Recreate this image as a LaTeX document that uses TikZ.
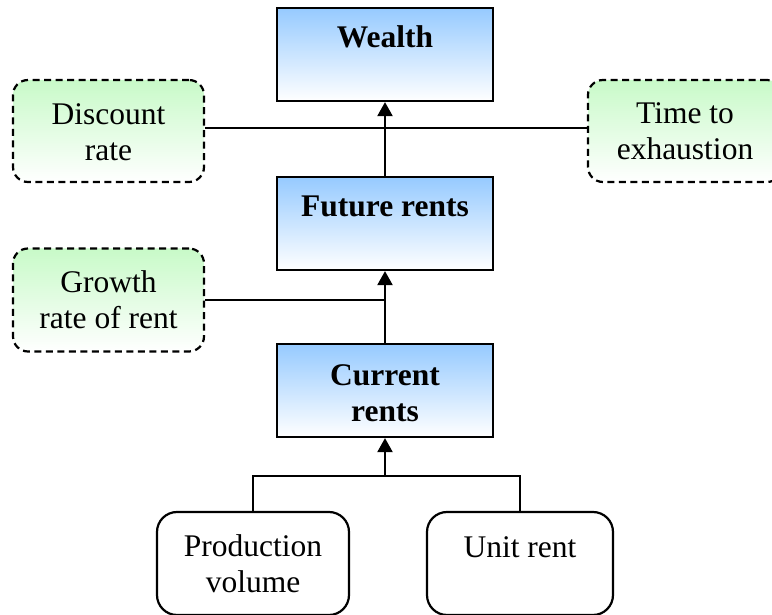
\documentclass[tikz,border=0pt]{standalone}
\usepackage{fontspec}
\setmainfont{Liberation Serif}
\usetikzlibrary{arrows.meta}
\definecolor{stockblue}{RGB}{150,202,255}
\definecolor{driftgreen}{RGB}{200,250,200}
\tikzset{
  stockbox/.style={draw, line width=2.2pt, minimum width=216pt, minimum height=93pt,
    inner sep=0pt, top color=stockblue, bottom color=white},
  drivebox/.style={draw, line width=2.2pt, dash pattern=on 7pt off 4.5pt, rounded corners=15pt,
    minimum height=102pt, inner sep=0pt, top color=driftgreen, bottom color=white},
  inputbox/.style={draw, line width=2.2pt, rounded corners=20pt, minimum height=103pt,
    inner sep=0pt, fill=white},
  link/.style={line width=2.2pt},
  flow/.style={line width=2.2pt, -{Triangle[width=15pt,length=14pt]}},
  lbl/.style={font=\fontsize{31.5}{36}\selectfont, align=center, inner sep=0pt, anchor=base},
  blbl/.style={lbl, font=\fontsize{31.5}{36}\selectfont\bfseries}
}
\begin{document}
\begin{tikzpicture}[x=1pt,y=-1pt]
\useasboundingbox (0,0) rectangle (772,615);

% stocks
\node[stockbox] (wealth) at (385,54.5) {};
\node[stockbox] (future) at (385,223.5) {};
\node[stockbox] (current) at (385,390.5) {};

% dashed drivers
\node[drivebox, minimum width=191pt] (disc) at (108.5,131) {};
\node[drivebox, minimum width=194pt] (time) at (685,131) {};
\node[drivebox, minimum width=191pt, minimum height=103pt] (growth) at (108.5,300) {};

% inputs
\node[inputbox, minimum width=192pt] (prod) at (253,563.5) {};
\node[inputbox, minimum width=186pt] (unit) at (520,563.5) {};

% labels (base anchor sits on the last line)
\node[blbl] (wealthT) at (385,48) {Wealth};
\node[blbl] (futureT) at (385,217) {Future rents};
\node[blbl] (currentT) at (385,421) {Current\\rents};
\node[lbl] (discT) at (108.5,161) {Discount\\rate};
\node[lbl] (timeT) at (685,160) {Time to\\exhaustion};
\node[lbl] (growthT) at (108.5,328) {Growth\\rate of rent};
\node[lbl] (prodT) at (253,592) {Production\\volume};
\node[lbl] (unitT) at (520,557) {Unit rent};

% connectors
\draw[link] ([yshift=3pt]disc.east) -- ([yshift=3pt]disc.east -| time.west);
\draw[flow] (future.north) -- (wealth.south);
\draw[link] (growth.east) -- (growth.east -| current.north);
\draw[flow] (current.north) -- (future.south);
\coordinate (join) at (385,476);
\draw[link] (prod.north) |- (join) -| (unit.north);
\draw[flow] (join) -- (current.south);
\end{tikzpicture}
\end{document}
